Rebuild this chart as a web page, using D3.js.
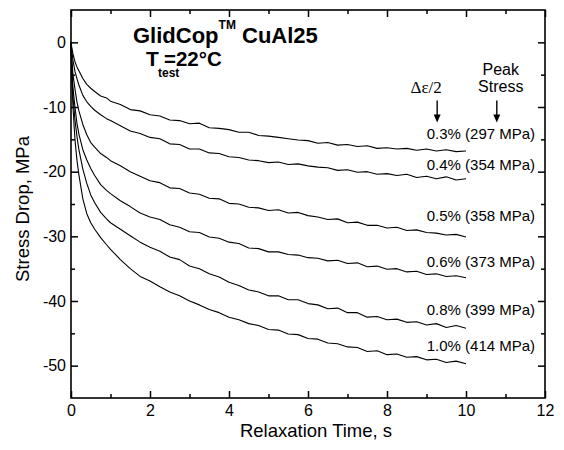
<!DOCTYPE html>
<html>
<head>
<meta charset="utf-8">
<script src="https://cdn.jsdelivr.net/npm/d3@7"></script>
<style>
  body { margin: 0; background: #fff; }
  svg text { font-family: Arial, "Liberation Sans", sans-serif; }
</style>
</head>
<body>
<svg id="chart" width="564" height="450"></svg>
<script>
// relaxation data
const times = [0, 0.02, 0.05, 0.1, 0.15, 0.2, 0.3, 0.4, 0.5, 0.6, 0.75, 0.9, 1.0, 1.25, 1.5, 1.75,
  2.0, 2.25, 2.5, 2.75, 3.0, 3.25, 3.5, 3.75, 4.0, 4.25, 4.5, 4.75, 5.0, 5.25, 5.5, 5.75,
  6.0, 6.25, 6.5, 6.75, 7.0, 7.25, 7.5, 7.75, 8.0, 8.25, 8.5, 8.75, 9.0, 9.25, 9.5, 9.75, 10];

const drop03 = [0, -0.8, -1.8, -3.0, -3.8, -4.4, -5.6, -6.5, -7.1, -7.6, -8.3, -8.6, -9.1, -9.6, -10.4, -10.6,
  -11.2, -11.4, -12.0, -12.1, -12.6, -12.5, -13.2, -13.3, -13.5, -13.9, -13.9, -14.4, -14.5, -14.7, -14.9, -15.1,
  -15.2, -15.6, -15.5, -15.9, -15.8, -16.1, -16.0, -16.4, -16.3, -16.5, -16.4, -16.7, -16.5, -16.8, -16.6, -16.9, -16.8];
const drop04 = [0, -1.3, -2.8, -4.5, -5.6, -6.6, -8.2, -9.2, -9.9, -10.5, -11.2, -11.8, -12.1, -12.9, -13.7, -14.1,
  -14.7, -14.9, -15.7, -15.8, -16.5, -16.5, -17.1, -17.2, -17.7, -17.8, -18.2, -18.3, -18.6, -18.5, -18.9, -18.8,
  -19.1, -19.3, -19.4, -19.8, -19.7, -20.1, -20.0, -20.4, -20.3, -20.6, -20.4, -20.9, -20.7, -21.1, -20.8, -21.3, -21.1];
const drop05 = [0, -2.5, -5.0, -7.2, -9.2, -10.6, -12.7, -14.3, -15.5, -16.2, -17.2, -17.8, -18.3, -19.1, -20.0, -20.7,
  -21.4, -21.7, -22.5, -22.6, -23.3, -23.5, -24.1, -24.2, -24.9, -25.0, -25.5, -25.6, -26.0, -25.9, -26.4, -26.3,
  -26.8, -27.0, -27.4, -27.3, -27.9, -27.8, -28.3, -28.3, -28.7, -28.6, -29.1, -29.0, -29.4, -29.5, -29.8, -29.7, -30.1];
const drop06 = [0, -3.5, -7.0, -10.0, -12.5, -14.2, -16.6, -18.2, -19.5, -20.6, -22.0, -22.9, -23.4, -24.5, -25.4, -26.4,
  -27.0, -27.4, -28.2, -28.6, -29.3, -29.4, -30.1, -30.3, -30.9, -31.1, -31.8, -31.9, -32.4, -32.4, -32.8, -32.9,
  -33.3, -33.4, -33.8, -33.7, -34.2, -34.1, -34.7, -34.6, -35.1, -35.0, -35.5, -35.4, -35.9, -35.8, -36.2, -36.1, -36.4];
const drop08 = [0, -4.5, -8.5, -12.0, -14.5, -16.6, -19.6, -21.8, -23.6, -24.8, -26.3, -27.3, -27.9, -28.9, -29.9, -30.9,
  -31.7, -32.3, -33.2, -33.6, -34.6, -35.0, -35.8, -36.3, -37.1, -37.6, -38.3, -38.6, -39.2, -39.2, -39.8, -39.8,
  -40.4, -40.6, -41.2, -41.1, -41.8, -41.8, -42.5, -42.4, -42.9, -42.8, -43.3, -43.2, -43.7, -43.5, -44.1, -43.8, -44.2];
const drop10 = [0, -5.0, -10.0, -15.0, -18.2, -20.5, -24.2, -26.5, -27.9, -28.9, -30.2, -31.3, -32.0, -33.6, -35.0, -36.2,
  -36.9, -37.8, -38.6, -39.2, -40.0, -40.6, -41.3, -41.8, -42.5, -42.9, -43.5, -43.8, -44.4, -44.5, -45.1, -45.2,
  -45.8, -45.9, -46.5, -46.6, -47.1, -47.2, -47.8, -47.7, -48.3, -48.2, -48.7, -48.6, -49.1, -49.0, -49.5, -49.3, -49.7];

const series = [drop03, drop04, drop05, drop06, drop08, drop10];
const labelText = ['0.3% (297 MPa)', '0.4% (354 MPa)', '0.5% (358 MPa)', '0.6% (373 MPa)', '0.8% (399 MPa)', '1.0% (414 MPa)'];
const labelY = [-15.0, -19.8, -27.7, -34.8, -42.2, -47.7];
const labelX = 11.75;

const xTicks = [0, 2, 4, 6, 8, 10, 12];
const xMinor = [1, 3, 5, 7, 9, 11];
const yTicks = [-50, -40, -30, -20, -10, 0];
const yMinor = [-45, -35, -25, -15, -5];

const margin = {left: 71, top: 10, right: 19, bottom: 52};
const width = 564 - margin.left - margin.right;
const height = 450 - margin.top - margin.bottom;

const svg = d3.select('#chart');
const g = svg.append('g').attr('transform', `translate(${margin.left},${margin.top})`);

const x = d3.scaleLinear().domain([0, 12]).range([0, width]);
const y = d3.scaleLinear().domain([-55, 5]).range([height, 0]);

// plain hyphen minus like the original
const fmt = d => String(d);

// axes, ticks pointing inward on all four sides
function styleAxis(sel) {
    sel.select('.domain').remove();
    sel.selectAll('line').attr('stroke', '#000').attr('stroke-width', 1.5);
    sel.selectAll('text').attr('fill', '#000').style('font-size', '16px')
        .style('font-family', 'Arial, "Liberation Sans", sans-serif');
}

g.append('g').attr('transform', `translate(0,${height})`)
    .call(d3.axisBottom(x).tickValues(xTicks).tickSize(-7).tickSizeOuter(0).tickPadding(7).tickFormat(fmt))
    .call(styleAxis);
g.append('g').attr('transform', `translate(0,${height})`)
    .call(d3.axisBottom(x).tickValues(xMinor).tickSize(-4).tickSizeOuter(0).tickFormat(''))
    .call(styleAxis);
g.append('g')
    .call(d3.axisTop(x).tickValues(xTicks).tickSize(-7).tickSizeOuter(0).tickFormat(''))
    .call(styleAxis);
g.append('g')
    .call(d3.axisTop(x).tickValues(xMinor).tickSize(-4).tickSizeOuter(0).tickFormat(''))
    .call(styleAxis);

g.append('g')
    .call(d3.axisLeft(y).tickValues(yTicks).tickSize(-7).tickSizeOuter(0).tickPadding(5).tickFormat(fmt))
    .call(styleAxis);
g.append('g')
    .call(d3.axisLeft(y).tickValues(yMinor).tickSize(-4).tickSizeOuter(0).tickFormat(''))
    .call(styleAxis);
g.append('g').attr('transform', `translate(${width},0)`)
    .call(d3.axisRight(y).tickValues(yTicks).tickSize(-7).tickSizeOuter(0).tickFormat(''))
    .call(styleAxis);
g.append('g').attr('transform', `translate(${width},0)`)
    .call(d3.axisRight(y).tickValues(yMinor).tickSize(-4).tickSizeOuter(0).tickFormat(''))
    .call(styleAxis);

// frame
g.append('rect')
    .attr('x', 0).attr('y', 0)
    .attr('width', width).attr('height', height)
    .attr('fill', 'none').attr('stroke', '#000').attr('stroke-width', 1.6);

// curves
const line = d3.line()
    .x((d, i) => x(times[i]))
    .y(d => y(d));

g.selectAll('.curve')
    .data(series)
    .join('path')
    .attr('class', 'curve')
    .attr('d', line)
    .attr('fill', 'none')
    .attr('stroke', '#000')
    .attr('stroke-width', 1.1)
    .attr('stroke-linejoin', 'round');

// curve labels
g.selectAll('.curve-label')
    .data(labelText)
    .join('text')
    .attr('class', 'curve-label')
    .attr('x', x(labelX))
    .attr('y', (d, i) => y(labelY[i]))
    .attr('text-anchor', 'end')
    .style('font-size', '15px')
    .text(d => d);

// column headers with arrows
const arrowTop = -9.0, arrowBottom = -12.4;
g.append('text')
    .attr('x', x(8.99)).attr('y', y(-7.9))
    .attr('text-anchor', 'middle')
    .style('font-family', '"Times New Roman", "Liberation Serif", serif')
    .style('font-size', '17px')
    .text('Δε/2');
g.append('text')
    .attr('x', x(10.88)).attr('y', y(-5.0))
    .attr('text-anchor', 'middle')
    .style('font-size', '16px')
    .text('Peak');
g.append('text')
    .attr('x', x(10.88)).attr('y', y(-7.75))
    .attr('text-anchor', 'middle')
    .style('font-size', '16px')
    .text('Stress');

[9.27, 10.78].forEach(t => {
    const ax = x(t), y0 = y(arrowTop), y1 = y(arrowBottom);
    g.append('line')
        .attr('x1', ax).attr('x2', ax)
        .attr('y1', y0).attr('y2', y1 - 6)
        .attr('stroke', '#000').attr('stroke-width', 1.4);
    g.append('path')
        .attr('d', `M${ax - 3.5},${y1 - 8} L${ax + 3.5},${y1 - 8} L${ax},${y1} Z`)
        .attr('fill', '#000');
});

// title block
const title = svg.append('text')
    .attr('x', 133).attr('y', 43)
    .style('font-weight', 'bold').style('font-size', '22px');
title.append('tspan').text('GlidCop');
title.append('tspan').attr('dy', -14).style('font-size', '12px').text('TM');
title.append('tspan').attr('dy', 14).attr('x', 242).text('CuAl25');

svg.append('text').attr('x', 146).attr('y', 66)
    .style('font-weight', 'bold').style('font-size', '21px').text('T');
svg.append('text').attr('x', 158).attr('y', 77)
    .style('font-weight', 'bold').style('font-size', '12px').text('test');
svg.append('text').attr('x', 164).attr('y', 66)
    .style('font-weight', 'bold').style('font-size', '20.5px').text('=22°C');

// axis titles
svg.append('text')
    .attr('x', 316).attr('y', 437)
    .attr('text-anchor', 'middle')
    .style('font-size', '18.5px')
    .text('Relaxation Time, s');
svg.append('text')
    .attr('transform', 'translate(29,209) rotate(-90)')
    .attr('text-anchor', 'middle')
    .style('font-size', '18.5px')
    .text('Stress Drop, MPa');
</script>
</body>
</html>
